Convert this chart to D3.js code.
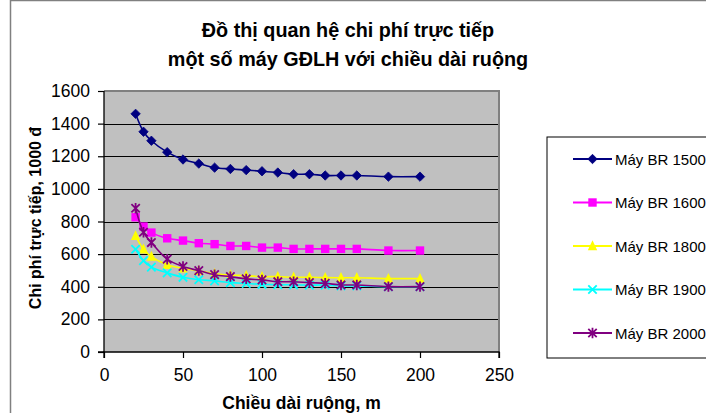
<!DOCTYPE html>
<html>
<head>
<meta charset="utf-8">
<script src="https://cdn.jsdelivr.net/npm/d3@7"></script>
<style>
  html, body { margin: 0; padding: 0; background: #fff; }
  svg { display: block; font-family: Arial, "Liberation Sans", sans-serif; }
</style>
</head>
<body>
<svg id="chart" width="706" height="413"></svg>
<script>
// Field length (m) at which each cost was computed
const lengths = [20, 25, 30, 40, 50, 60, 70, 80, 90, 100, 110, 120, 130, 140, 150, 160, 180, 200];

// Direct cost, thousand dong, per machine
const br1500 = [1460, 1350, 1295, 1225, 1180, 1155, 1130, 1122, 1115, 1108, 1100, 1090, 1090, 1082, 1082, 1082, 1075, 1075];
const br1600 = [826, 769, 732, 697, 683, 667, 661, 650, 650, 640, 640, 632, 632, 632, 632, 632, 622, 622];
const br1800 = [712, 630, 585, 535, 513, 498, 480, 472, 468, 462, 462, 458, 458, 456, 455, 455, 450, 450];
const br1900 = [630, 560, 520, 485, 458, 443, 436, 425, 420, 415, 413, 412, 410, 410, 405, 405, 400, 400];
const br2000 = [881, 734, 671, 569, 524, 499, 474, 462, 448, 442, 431, 431, 425, 421, 411, 411, 401, 401];

const seriesNames = ["Máy BR 1500", "Máy BR 1600", "Máy BR 1800", "Máy BR 1900", "Máy BR 2000"];
const seriesValues = [br1500, br1600, br1800, br1900, br2000];
const seriesColors = ["#000080", "#FF00FF", "#FFFF00", "#00FFFF", "#800080"];
const seriesMarkers = ["diamond", "square", "triangle", "x", "star"];

const xTicks = [0, 50, 100, 150, 200, 250];
const yTicks = [0, 200, 400, 600, 800, 1000, 1200, 1400, 1600];

const titleLines = ["Đồ thị quan hệ chi phí trực tiếp", "một số máy GĐLH với chiều dài ruộng"];
const xTitle = "Chiều dài ruộng, m";
const yTitle = "Chi phí trực tiếp, 1000 đ";

const svg = d3.select("#chart");
const plot = { left: 104, right: 499, top: 91, bottom: 352 };

const x = d3.scaleLinear().domain([0, 250]).range([plot.left, plot.right]);
const y = d3.scaleLinear().domain([0, 1600]).range([plot.bottom, plot.top]);

// Outer chart frame (top and left edges)
svg.append("line").attr("x1", 10).attr("x2", 706).attr("y1", 0.5).attr("y2", 0.5)
  .attr("stroke", "#808080").attr("stroke-width", 1.5);
svg.append("line").attr("x1", 10.5).attr("x2", 10.5).attr("y1", 0).attr("y2", 413)
  .attr("stroke", "#808080").attr("stroke-width", 1.5);

// Title
const title = svg.append("text")
  .attr("text-anchor", "middle")
  .attr("font-weight", "bold")
  .attr("font-size", 19.8)
  .attr("fill", "#000");
titleLines.forEach((t, i) => {
  title.append("tspan").attr("x", 348).attr("y", 37 + i * 29).text(t);
});

// Plot background
svg.append("rect")
  .attr("x", plot.left).attr("y", plot.top)
  .attr("width", plot.right - plot.left).attr("height", plot.bottom - plot.top)
  .attr("fill", "#C0C0C0");

// Horizontal gridlines
svg.append("g").selectAll("line")
  .data(yTicks.filter(v => v > 0 && v < 1600))
  .join("line")
  .attr("x1", plot.left).attr("x2", plot.right)
  .attr("y1", d => Math.round(y(d)) + 0.5).attr("y2", d => Math.round(y(d)) + 0.5)
  .attr("stroke", "#000").attr("stroke-width", 1.2);

// Plot border top / right
svg.append("path")
  .attr("d", `M${plot.left},${plot.top} H${plot.right} V${plot.bottom}`)
  .attr("fill", "none").attr("stroke", "#808080").attr("stroke-width", 2);

// Axes
const yAxis = d3.axisLeft(y).tickValues(yTicks).tickSize(6).tickPadding(8).tickFormat(d3.format("d"));
const xAxis = d3.axisBottom(x).tickValues(xTicks).tickSize(6).tickPadding(11).tickFormat(d3.format("d"));

const gy = svg.append("g").attr("transform", `translate(${plot.left},0)`).call(yAxis);
const gx = svg.append("g").attr("transform", `translate(0,${plot.bottom})`).call(xAxis);
[gx, gy].forEach(g => {
  g.select(".domain").attr("stroke", "#000").attr("stroke-width", 1.3);
  g.selectAll(".tick line").attr("stroke", "#000").attr("stroke-width", 1.2);
  g.selectAll(".tick text").attr("font-size", 17.5).attr("fill", "#000")
    .attr("font-family", "Arial, 'Liberation Sans', sans-serif");
});
gy.select(".domain").attr("d", `M-6,${plot.bottom}H0V${plot.top}`);
gx.select(".domain").attr("d", `M${plot.left},6V0H${plot.right}V6`);

// Axis titles
svg.append("text")
  .attr("x", (plot.left + plot.right) / 2).attr("y", 409)
  .attr("text-anchor", "middle").attr("font-weight", "bold").attr("font-size", 17.5)
  .text(xTitle);
svg.append("text")
  .attr("transform", `translate(41,${218}) rotate(-90)`)
  .attr("text-anchor", "middle").attr("font-weight", "bold").attr("font-size", 16)
  .text(yTitle);

// Marker shapes
function drawMarker(g, type, color, cx, cy) {
  const s = 4.2;
  if (type === "diamond") {
    g.append("path").attr("d", `M${cx},${cy - s - 0.5}L${cx + s + 0.5},${cy}L${cx},${cy + s + 0.5}L${cx - s - 0.5},${cy}Z`)
      .attr("fill", color).attr("stroke", color).attr("stroke-width", 0.8);
  } else if (type === "square") {
    g.append("rect").attr("x", cx - s).attr("y", cy - s).attr("width", 2 * s).attr("height", 2 * s)
      .attr("fill", color);
  } else if (type === "triangle") {
    g.append("path").attr("d", `M${cx},${cy - s - 1.5}L${cx + s + 0.5},${cy + s}L${cx - s - 0.5},${cy + s}Z`)
      .attr("fill", color);
  } else if (type === "x") {
    g.append("path").attr("d", `M${cx - s},${cy - s}L${cx + s},${cy + s}M${cx + s},${cy - s}L${cx - s},${cy + s}`)
      .attr("stroke", color).attr("stroke-width", 1.8).attr("fill", "none");
  } else if (type === "star") {
    g.append("path").attr("d",
      `M${cx - s},${cy - s}L${cx + s},${cy + s}M${cx + s},${cy - s}L${cx - s},${cy + s}M${cx},${cy - s - 1}L${cx},${cy + s + 1}`)
      .attr("stroke", color).attr("stroke-width", 1.8).attr("fill", "none");
  }
}

// Smoothed series lines with markers
const line = d3.line()
  .x((d, i) => x(lengths[i]))
  .y(d => y(d))
  .curve(d3.curveCatmullRom.alpha(0.5));

const seriesG = svg.append("g");
seriesValues.forEach((vals, si) => {
  const g = seriesG.append("g");
  g.append("path").datum(vals)
    .attr("d", line)
    .attr("fill", "none")
    .attr("stroke", seriesColors[si])
    .attr("stroke-width", 1.6);
  vals.forEach((v, i) => drawMarker(g, seriesMarkers[si], seriesColors[si], x(lengths[i]), y(v)));
});

// Legend
const legend = svg.append("g");
legend.append("rect")
  .attr("x", 547).attr("y", 137).attr("width", 170).attr("height", 221)
  .attr("fill", "#fff").attr("stroke", "#000").attr("stroke-width", 1);
seriesNames.forEach((name, i) => {
  const ly = 159 + i * 43.5;
  legend.append("line").attr("x1", 573).attr("x2", 612).attr("y1", ly).attr("y2", ly)
    .attr("stroke", seriesColors[i]).attr("stroke-width", 2);
  drawMarker(legend, seriesMarkers[i], seriesColors[i], 592.5, ly);
  legend.append("text").attr("x", 615).attr("y", ly + 5.5)
    .attr("font-size", 15).attr("fill", "#000").text(name);
});
</script>
</body>
</html>
